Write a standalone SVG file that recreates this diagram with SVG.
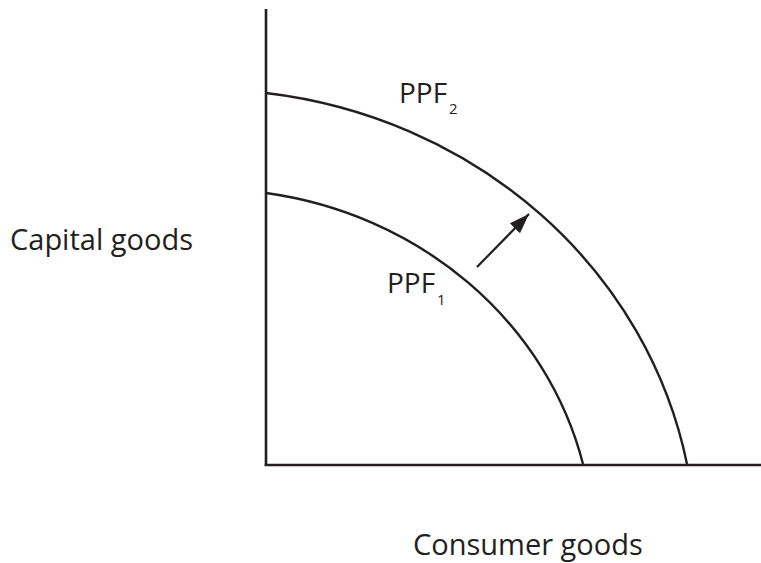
<svg xmlns="http://www.w3.org/2000/svg" width="761" height="563" viewBox="0 0 761 563">
<style>
.ax{stroke:#231f20;stroke-width:2.6;fill:none}
.cv{stroke:#231f20;stroke-width:2.4;fill:none}
.lbl{font-family:"Open Sans","Noto Sans",sans-serif;font-size:28px;fill:#231f20}
.axl{font-family:"Open Sans","Noto Sans",sans-serif;font-size:29px;fill:#231f20}
.sub{font-family:"Open Sans","Noto Sans",sans-serif;font-size:15px;fill:#231f20}
</style>
<defs>
<marker id="ah" markerUnits="userSpaceOnUse" markerWidth="24" markerHeight="16" refX="20" refY="7" orient="auto">
<path d="M0,0 L20,7 L0,14 Z" fill="#231f20"/>
</marker>
</defs>
<rect width="761" height="563" fill="#fff"/>
<g id="axes">
<line class="ax" x1="266" y1="9" x2="266" y2="466"/>
<line class="ax" x1="264.7" y1="465" x2="761" y2="465"/>
</g>
<g id="ppf1">
<path class="cv" d="M266,193 A383.7,358.8 0 0 1 583,464"/>
<text class="lbl" x="387" y="293">PPF</text>
<text class="sub" x="437" y="305">1</text>
</g>
<g id="ppf2">
<path class="cv" d="M266,93 A491.1,462.6 0 0 1 687,464"/>
<text class="lbl" x="399" y="103">PPF</text>
<text class="sub" x="449" y="114">2</text>
</g>
<g id="connectors">
<line x1="477" y1="267" x2="529" y2="214" stroke="#231f20" stroke-width="2.2" marker-end="url(#ah)"/>
</g>
<g id="labels">
<text class="axl" x="10" y="250">Capital goods</text>
<text class="axl" x="413" y="555">Consumer goods</text>
</g>
</svg>
